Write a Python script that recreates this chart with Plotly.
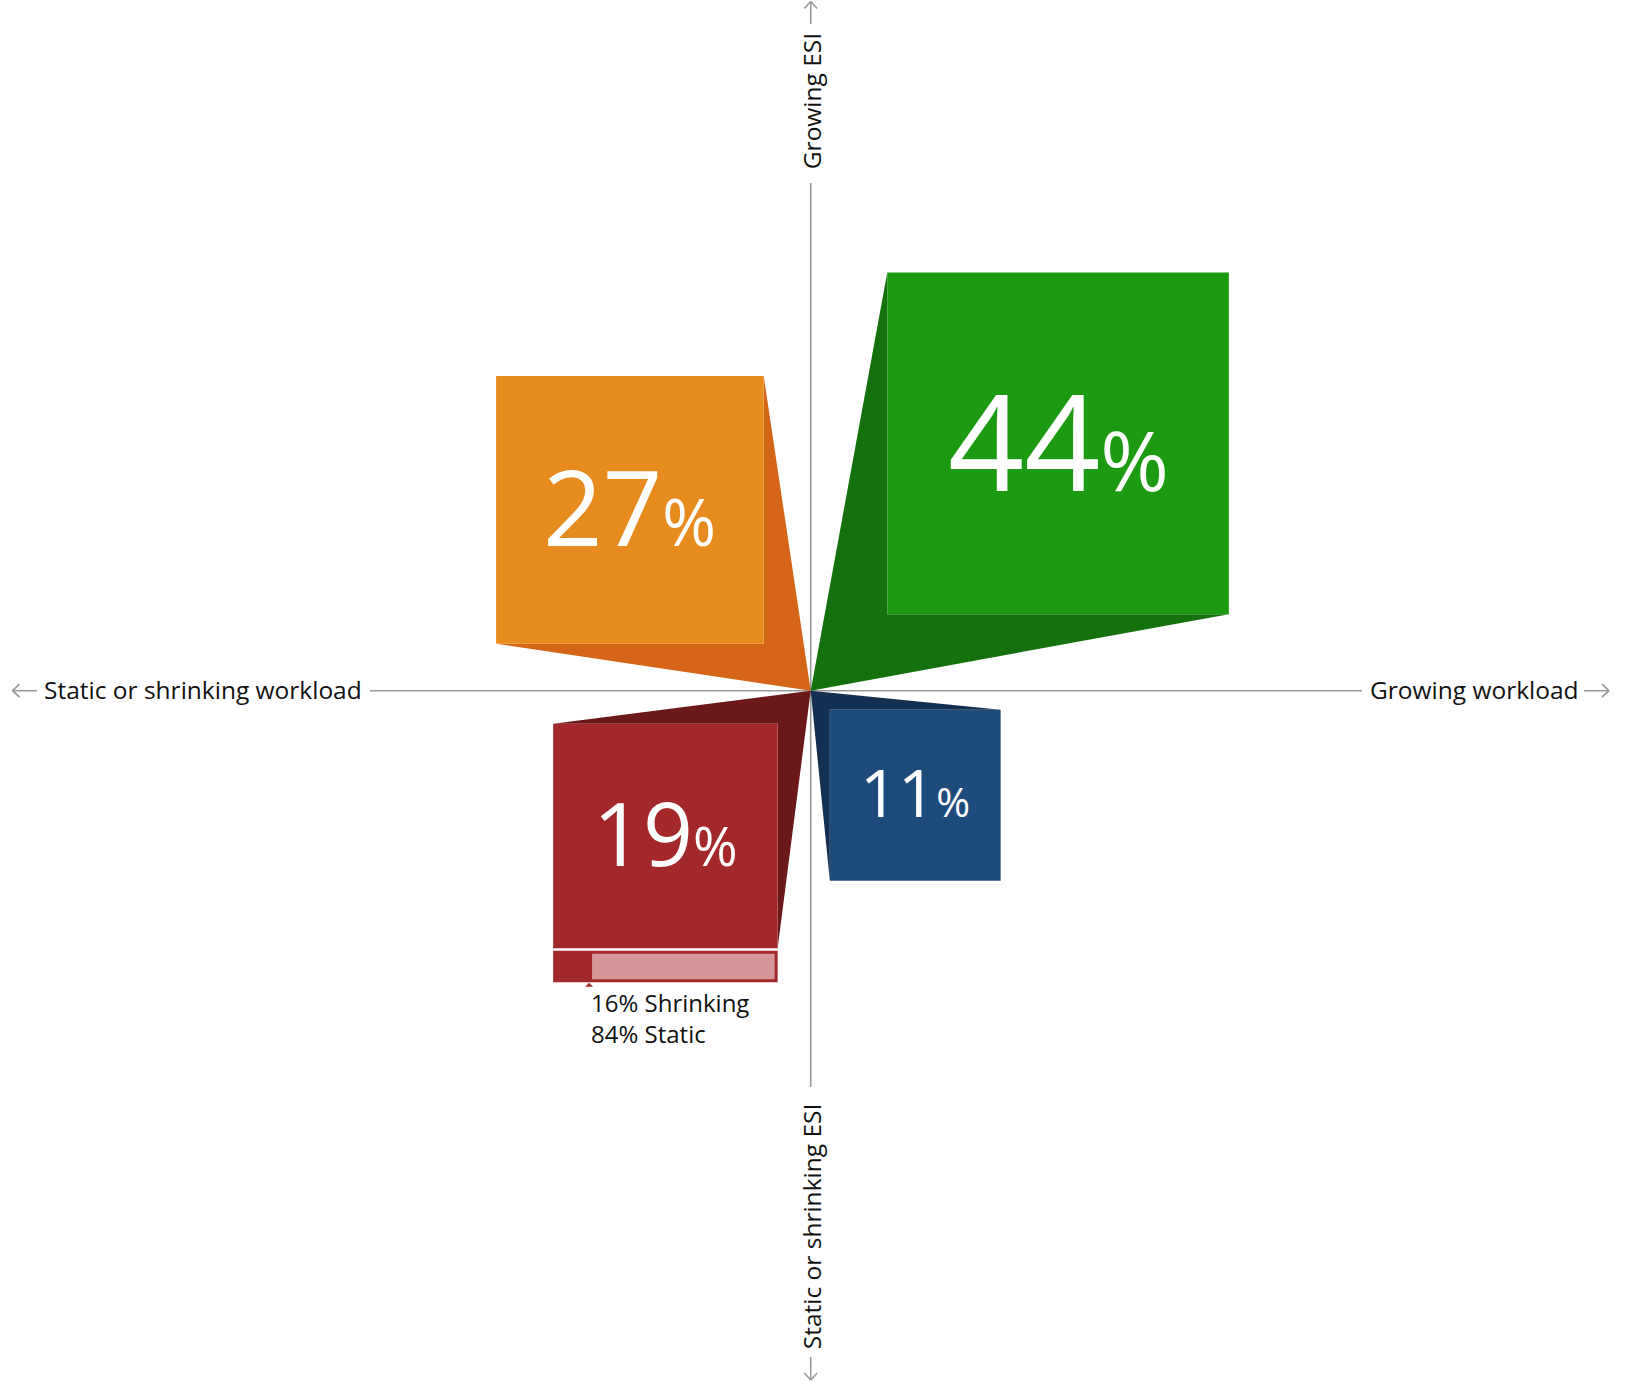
import math
import plotly.graph_objects as go

# ---------------- data ----------------
categories = [
    "Growing workload, growing ESI",
    "Static or shrinking workload, growing ESI",
    "Static or shrinking workload, static or shrinking ESI",
    "Growing workload, static or shrinking ESI",
]
percent = [44, 27, 19, 11]
x_dir = [1, -1, -1, 1]      # +1 growing workload, -1 static/shrinking workload
y_dir = [1, 1, -1, -1]      # +1 growing ESI, -1 static/shrinking ESI

breakdown_labels = ["Shrinking", "Static"]
breakdown_values = [16, 84]
breakdown_of = 2            # index of the category that is broken down

axis_labels = ["Growing workload", "Static or shrinking workload",
               "Growing ESI", "Static or shrinking ESI"]

# ---------------- style ----------------
main_colors = ["#1C9A12", "#E88B1E", "#A3282A", "#1E4B7C"]
shadow_colors = ["#15710E", "#D56617", "#6B1819", "#132F52"]
light_red = "#D59698"
axis_color = "#999999"
FONT = "Open Sans"

W, H = 1627, 1390
CX, CY = 810.7, 690.7          # pixel position of the origin
SIDE_K = 51.5                  # side = SIDE_K * sqrt(percent)
GAP_K = 1.74                   # gap from the axes = GAP_K * percent

fig = go.Figure()

geo = []
for p, sx, sy in zip(percent, x_dir, y_dir):
    s = SIDE_K * math.sqrt(p)
    g = GAP_K * p
    geo.append((s, g, sx, sy))

# shadows first
for i, (s, g, sx, sy) in enumerate(geo):
    A = (sx * g, sy * (g + s))
    B = (sx * (g + s), sy * g)
    N = (sx * g, sy * g)
    fig.add_trace(go.Scatter(
        x=[A[0], 0, B[0], N[0], A[0]], y=[A[1], 0, B[1], N[1], A[1]],
        fill="toself", fillcolor=shadow_colors[i], mode="lines",
        line=dict(width=0, color=shadow_colors[i]), hoverinfo="skip",
        showlegend=False))

# squares
for i, (s, g, sx, sy) in enumerate(geo):
    x0, x1 = sx * g, sx * (g + s)
    y0, y1 = sy * g, sy * (g + s)
    fig.add_trace(go.Scatter(
        x=[x0, x1, x1, x0, x0], y=[y0, y0, y1, y1, y0],
        fill="toself", fillcolor=main_colors[i], mode="lines",
        line=dict(width=0, color=main_colors[i]),
        name=categories[i], hovertemplate=f"{categories[i]}: {percent[i]}%<extra></extra>",
        showlegend=False))
    f = 0.39 * s
    fig.add_annotation(
        x=sx * (g + s / 2), y=sy * (g + s / 2), xref="x", yref="y",
        text=f"{percent[i]}<span style='font-size:{0.62 * f:.0f}px'>%</span>",
        showarrow=False, font=dict(family=FONT, size=f, color="white"),
        xanchor="center", yanchor="middle", yshift=4)

# breakdown bar under the chosen square
s, g, sx, sy = geo[breakdown_of]
bx0, bx1 = min(sx * g, sx * (g + s)), max(sx * g, sx * (g + s))
bw = bx1 - bx0
btop = -(g + s) - 2.5
bbot = btop - 31.5
split = bx0 + bw * breakdown_values[0] / 100
fig.add_trace(go.Scatter(
    x=[bx0, bx1, bx1, bx0, bx0], y=[btop, btop, bbot, bbot, btop],
    fill="toself", fillcolor=main_colors[breakdown_of], mode="lines",
    line=dict(width=0), hoverinfo="skip", showlegend=False))
fig.add_trace(go.Scatter(
    x=[split + 3, bx1 - 3, bx1 - 3, split + 3, split + 3],
    y=[btop - 3, btop - 3, bbot + 3, bbot + 3, btop - 3],
    fill="toself", fillcolor=light_red, mode="lines",
    line=dict(width=0), hoverinfo="skip", showlegend=False))
fig.add_trace(go.Scatter(
    x=[split - 4, split, split + 4, split - 4],
    y=[bbot - 4.5, bbot - 0.5, bbot - 4.5, bbot - 4.5],
    fill="toself", fillcolor=main_colors[breakdown_of], mode="lines",
    line=dict(width=0), hoverinfo="skip", showlegend=False))
fig.add_annotation(
    x=split, y=bbot - 2, xref="x", yref="y", xanchor="left", yanchor="top",
    align="left", showarrow=False,
    text="<br>".join(f"{v}% {l}" for v, l in zip(breakdown_values, breakdown_labels)),
    font=dict(family=FONT, size=24, color="#111111"))

# ---------------- axes decoration ----------------
def px(x):
    return x - CX

def py(y):
    return CY - y

lw = 1.6
lines = [
    # horizontal axis
    ((px(370), 0), (px(1362), 0)),
    # vertical axis
    ((0, py(183)), (0, py(1087))),
    # left arrow
    ((px(12.5), 0), (px(37), 0)), ((px(12.5), 0), (px(19.5), 6.5)), ((px(12.5), 0), (px(19.5), -6.5)),
    # right arrow
    ((px(1584), 0), (px(1609), 0)), ((px(1609), 0), (px(1602), 6.5)), ((px(1609), 0), (px(1602), -6.5)),
    # top arrow
    ((0, py(1.5)), (0, py(24))), ((0, py(1.5)), (-6.5, py(8.5))), ((0, py(1.5)), (6.5, py(8.5))),
    # bottom arrow
    ((0, py(1357)), (0, py(1380))), ((0, py(1380)), (-6.5, py(1373))), ((0, py(1380)), (6.5, py(1373))),
]
shapes = [dict(type="line", xref="x", yref="y", x0=a[0], y0=a[1], x1=b[0], y1=b[1],
               line=dict(color=axis_color, width=lw), layer="below") for a, b in lines]

lab_font = dict(family=FONT, size=24.5, color="#111111")
fig.add_annotation(x=px(1368), y=0, text=axis_labels[0], xanchor="left", yanchor="middle",
                   showarrow=False, font=lab_font, yshift=1)
fig.add_annotation(x=px(364), y=0, text=axis_labels[1], xanchor="right", yanchor="middle",
                   showarrow=False, font=lab_font, yshift=1)
fig.add_annotation(x=0, y=py(101.5), text=axis_labels[2], textangle=-90, xanchor="center",
                   yanchor="middle", showarrow=False, font=lab_font, xshift=1)
fig.add_annotation(x=0, y=py(1226.5), text=axis_labels[3], textangle=-90, xanchor="center",
                   yanchor="middle", showarrow=False, font=lab_font, xshift=1)

fig.update_layout(
    width=W, height=H, margin=dict(l=0, r=0, t=0, b=0),
    paper_bgcolor="white", plot_bgcolor="white",
    xaxis=dict(range=[-CX, W - CX], visible=False, fixedrange=True),
    yaxis=dict(range=[-(H - CY), CY], visible=False, fixedrange=True),
    shapes=shapes, showlegend=False,
)

fig.write_html("out.html", config={"displayModeBar": False},
               post_script="document.body.style.margin='0';document.body.style.overflow='hidden';")
